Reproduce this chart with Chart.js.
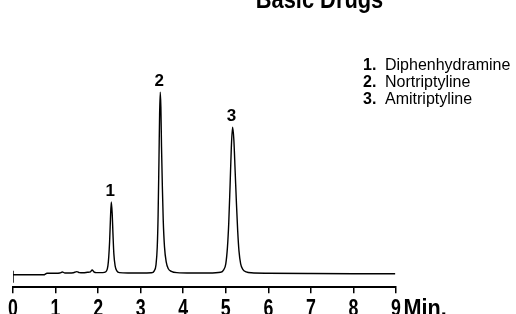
<!DOCTYPE html>
<html>
<head>
<meta charset="utf-8">
<script src="https://cdn.jsdelivr.net/npm/chart.js@4"></script>
<style>
  html, body { margin: 0; padding: 0; background: #fff; }
  #wrap { width: 516px; height: 314px; }
</style>
</head>
<body>
<div id="wrap"><canvas id="chrom" width="516" height="314"></canvas></div>
<script>
// chart data
const chartTitle = 'Basic Drugs';
const xTicks = [0, 1, 2, 3, 4, 5, 6, 7, 8, 9];
const xUnit = 'Min.';

// retention time (min) and detector signal (arbitrary units)
const traceMin = [0, 0.72, 0.8, 1.0, 1.1, 1.16, 1.22, 1.3, 1.42, 1.5, 1.56, 1.65, 1.75, 1.82, 1.86, 1.9, 1.96, 2.05, 2.15,
  2.2, 2.23, 2.25, 2.27, 2.29, 2.31, 2.33, 2.35, 2.37, 2.4, 2.44, 2.5, 2.7, 3.0,
  3.25, 3.32, 3.36, 3.39, 3.41, 3.43, 3.445, 3.46, 3.475, 3.49, 3.51, 3.53, 3.56, 3.6, 3.65, 3.72, 3.85, 4.2, 4.6,
  4.88, 4.95, 5.0, 5.04, 5.07, 5.1, 5.13, 5.16, 5.19, 5.22, 5.25, 5.28, 5.31, 5.35, 5.4, 5.48, 5.6, 6.0, 7.0, 8.0, 8.98];
const traceSignal = [0, 0, 1.5, 1.5, 1.8, 2.8, 1.8, 1.8, 2.0, 3.2, 2.2, 2.0, 2.5, 3, 4.8, 3, 2.2, 2.2, 2.5,
  4, 9, 18, 33, 56, 73, 62, 40, 21, 9, 4, 2.2, 1.8, 1.8,
  2, 4, 10, 28, 60, 115, 160, 182.7, 168, 128, 88, 55, 28, 13, 6, 3.5, 2.2, 1.8, 1.8,
  2.5, 5, 11, 28, 52, 88, 127, 147.7, 135, 104, 72, 44, 24, 11, 5.5, 3, 2, 1.6, 1.3, 1.1, 1];

// injection marker at t = 0
const startMark = [-8, 4];

const peakNumbers = ['1', '2', '3'];
const peakNames = ['Diphenhydramine', 'Nortriptyline', 'Amitriptyline'];
const peakTimes = [2.31, 3.46, 5.16];
const peakHeights = [73, 182.7, 147.7];

const sans = '"Liberation Sans", Arial, sans-serif';

// no condensed bold font installed, so squeeze Liberation Sans Bold sideways
function squeezed(ctx, text, x, y, sx) {
  ctx.save();
  ctx.translate(x, y);
  ctx.scale(sx, 1);
  ctx.fillText(text, 0, 0);
  ctx.restore();
}

const decor = {
  id: 'decor',
  afterDraw(chart) {
    const ctx = chart.ctx;
    const xs = chart.scales.x, ys = chart.scales.y;
    ctx.save();
    ctx.fillStyle = '#000';

    // title (top edge is cut off in the original)
    ctx.font = 'bold 26px ' + sans;
    ctx.textAlign = 'center';
    ctx.textBaseline = 'alphabetic';
    squeezed(ctx, chartTitle, 319.5, 7.5, 0.84);

    // tick labels of the time axis
    ctx.font = 'bold 24px ' + sans;
    const labelY = xs.top + 29;
    xs.ticks.forEach(t => {
      squeezed(ctx, String(t.value), xs.getPixelForValue(t.value), labelY, 0.74);
    });
    ctx.textAlign = 'left';
    squeezed(ctx, xUnit, xs.getPixelForValue(xTicks[xTicks.length - 1]) + 7.5, labelY, 0.9);

    // peak numbers above each apex
    ctx.textAlign = 'center';
    ctx.font = 'bold 17px ' + sans;
    peakNumbers.forEach((n, i) => {
      ctx.fillText(n, xs.getPixelForValue(peakTimes[i]) - 1, ys.getPixelForValue(peakHeights[i]) - 6);
    });

    // peak list
    ctx.textAlign = 'left';
    peakNumbers.forEach((n, i) => {
      const y = 70 + i * 17;
      ctx.font = 'bold 16px ' + sans;
      ctx.fillText(n + '.', 363, y);
      ctx.font = '16px ' + sans;
      ctx.fillText(peakNames[i], 385, y);
    });
    ctx.restore();
  }
};

new Chart(document.getElementById('chrom'), {
  type: 'scatter',
  data: {
    datasets: [{
      data: traceMin.map((t, i) => ({ x: t, y: traceSignal[i] })),
      showLine: true,
      borderColor: '#000',
      borderWidth: 1.4,
      pointRadius: 0,
      cubicInterpolationMode: 'monotone'
    }, {
      data: startMark.map(v => ({ x: 0, y: v })),
      showLine: true,
      borderColor: '#000',
      borderWidth: 1.5,
      pointRadius: 0
    }]
  },
  options: {
    responsive: false,
    animation: false,
    devicePixelRatio: 1,
    layout: { padding: { left: 13, right: 120, top: 75, bottom: 20.7 } },
    plugins: { legend: { display: false }, tooltip: { enabled: false } },
    scales: {
      x: {
        type: 'linear',
        min: 0,
        max: 9,
        afterBuildTicks: s => { s.ticks = xTicks.map(v => ({ value: v })); },
        afterFit: s => { s.height = 6; },
        ticks: { display: false },
        grid: { drawOnChartArea: false, drawTicks: true, tickLength: 6, color: '#000', lineWidth: 1.5 },
        border: { color: '#000', width: 2 }
      },
      y: { display: false, min: -12.5, max: 200 }
    }
  },
  plugins: [decor]
});
</script>
</body>
</html>
